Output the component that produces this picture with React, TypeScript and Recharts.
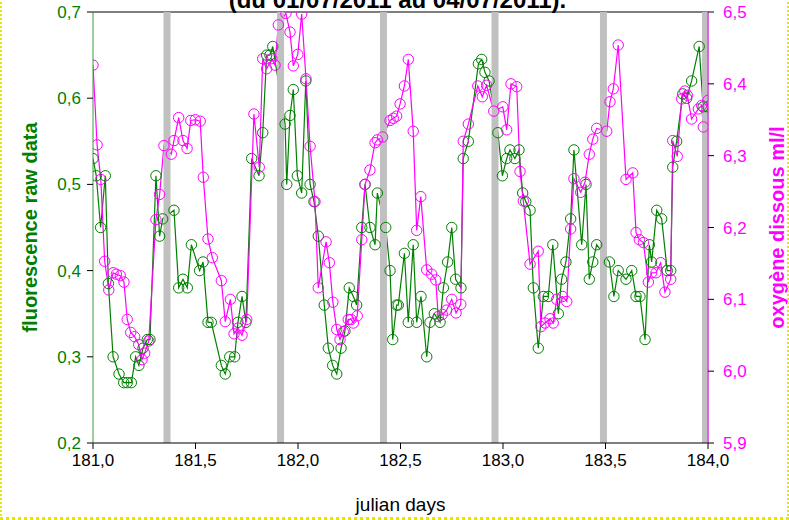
import { ComposedChart, Line, XAxis, YAxis, ReferenceLine, Label } from 'recharts'

// ─── Data ────────────────────────────────────────────────────────────────────
const fluoDays = [
  181.000, 181.016, 181.037, 181.060, 181.075, 181.098, 181.127, 181.150, 181.167, 181.187,
  181.208, 181.224, 181.244, 181.265, 181.278, 181.307, 181.325, 181.340, 181.395, 181.418,
  181.439, 181.460, 181.480, 181.520, 181.537, 181.561, 181.577, 181.626, 181.645, 181.667,
  181.691, 181.707, 181.727, 181.746, 181.774, 181.810, 181.828, 181.847, 181.863, 181.877,
  181.937, 181.945, 181.961, 181.977, 181.997, 182.018, 182.038, 182.059, 182.078, 182.099,
  182.128, 182.148, 182.169, 182.189, 182.210, 182.229, 182.250, 182.270, 182.286, 182.311,
  182.327, 182.351, 182.376, 182.387, 182.428, 182.449, 182.462, 182.481, 182.489, 182.519,
  182.538, 182.562, 182.579, 182.600, 182.628, 182.644, 182.665, 182.693, 182.709, 182.730,
  182.750, 182.769, 182.795, 182.806, 182.831, 182.880, 182.896, 182.912, 182.932, 182.975,
  182.997, 183.018, 183.034, 183.058, 183.078, 183.096, 183.111, 183.132, 183.148, 183.172,
  183.197, 183.221, 183.243, 183.270, 183.286, 183.307, 183.330, 183.346, 183.384, 183.405,
  183.421, 183.438, 183.457, 183.519, 183.541, 183.562, 183.600, 183.628, 183.649, 183.668,
  183.693, 183.714, 183.725, 183.750, 183.774, 183.801, 183.818, 183.828, 183.847, 183.877,
  183.896, 183.920, 183.957, 183.976, 184.000,
]
const fluoValues = [
  0.53, 0.51, 0.45, 0.51, 0.385, 0.30, 0.28, 0.27, 0.27, 0.27,
  0.30, 0.29, 0.31, 0.32, 0.32, 0.51, 0.44, 0.46, 0.47, 0.38,
  0.39, 0.38, 0.43, 0.40, 0.41, 0.34, 0.34, 0.29, 0.28, 0.30,
  0.30, 0.34, 0.37, 0.34, 0.53, 0.51, 0.56, 0.65, 0.65, 0.66,
  0.57, 0.50, 0.58, 0.61, 0.51, 0.49, 0.62, 0.50, 0.48, 0.44,
  0.36, 0.31, 0.29, 0.28, 0.31, 0.33, 0.38, 0.37, 0.36, 0.45,
  0.50, 0.45, 0.43, 0.49, 0.45, 0.40, 0.32, 0.36, 0.36, 0.42,
  0.34, 0.43, 0.34, 0.37, 0.30, 0.34, 0.35, 0.34, 0.38, 0.41,
  0.45, 0.39, 0.38, 0.53, 0.55, 0.64, 0.645, 0.63, 0.62, 0.56,
  0.51, 0.53, 0.54, 0.53, 0.54, 0.49, 0.48, 0.47, 0.38, 0.31,
  0.37, 0.37, 0.43, 0.35, 0.39, 0.41, 0.46, 0.54, 0.43, 0.50,
  0.39, 0.41, 0.43, 0.41, 0.37, 0.40, 0.39, 0.40, 0.37, 0.37,
  0.32, 0.43, 0.41, 0.47, 0.46, 0.40, 0.40, 0.52, 0.55, 0.605,
  0.60, 0.62, 0.66, 0.59, 0.59,
]

const oxyDays = [
  181.000, 181.020, 181.038, 181.057, 181.077, 181.098, 181.114, 181.133, 181.151, 181.167,
  181.184, 181.203, 181.223, 181.239, 181.252, 181.272, 181.307, 181.325, 181.346, 181.382,
  181.395, 181.418, 181.439, 181.459, 181.477, 181.499, 181.523, 181.538, 181.561, 181.582,
  181.626, 181.645, 181.670, 181.688, 181.707, 181.727, 181.750, 181.785, 181.811, 181.828,
  181.847, 181.872, 181.888, 181.904, 181.941, 181.961, 181.977, 181.999, 182.018, 182.039,
  182.059, 182.083, 182.099, 182.137, 182.153, 182.170, 182.189, 182.205, 182.221, 182.245,
  182.259, 182.270, 182.289, 182.311, 182.327, 182.351, 182.376, 182.387, 182.413, 182.449,
  182.465, 182.481, 182.498, 182.519, 182.538, 182.562, 182.579, 182.599, 182.628, 182.652,
  182.672, 182.684, 182.704, 182.725, 182.750, 182.771, 182.794, 182.806, 182.831, 182.877,
  182.899, 182.920, 182.955, 182.999, 183.018, 183.039, 183.067, 183.083, 183.099, 183.132,
  183.172, 183.185, 183.205, 183.229, 183.245, 183.262, 183.291, 183.311, 183.330, 183.346,
  183.379, 183.400, 183.421, 183.438, 183.457, 183.506, 183.522, 183.538, 183.562, 183.600,
  183.633, 183.649, 183.665, 183.685, 183.709, 183.725, 183.746, 183.769, 183.790, 183.818,
  183.828, 183.850, 183.872, 183.887, 183.899, 183.920, 183.953, 183.969, 183.977, 184.000,
]
const oxyValues = [
  6.426, 6.315, 6.267, 6.153, 6.113, 6.137, 6.135, 6.133, 6.124, 6.072,
  6.054, 6.048, 6.037, 6.016, 6.025, 6.042, 6.211, 6.246, 6.314, 6.302,
  6.321, 6.353, 6.321, 6.310, 6.349, 6.350, 6.348, 6.270, 6.184, 6.158,
  6.126, 6.069, 6.100, 6.052, 6.060, 6.050, 6.072, 6.358, 6.284, 6.435,
  6.421, 6.435, 6.426, 6.482, 6.498, 6.472, 6.425, 6.441, 6.497, 6.407,
  6.313, 6.236, 6.116, 6.180, 6.151, 6.096, 6.058, 6.044, 6.055, 6.072,
  6.072, 6.067, 6.077, 6.183, 6.260, 6.280, 6.318, 6.322, 6.326, 6.349,
  6.352, 6.355, 6.372, 6.397, 6.434, 6.334, 6.196, 6.243, 6.141, 6.135,
  6.127, 6.076, 6.079, 6.085, 6.100, 6.081, 6.093, 6.320, 6.344, 6.397,
  6.382, 6.398, 6.362, 6.368, 6.336, 6.400, 6.396, 6.278, 6.237, 6.149,
  6.167, 6.062, 6.067, 6.073, 6.067, 6.100, 6.104, 6.097, 6.198, 6.268,
  6.249, 6.263, 6.302, 6.323, 6.338, 6.334, 6.375, 6.393, 6.454, 6.267,
  6.276, 6.193, 6.183, 6.179, 6.124, 6.137, 6.137, 6.151, 6.110, 6.128,
  6.321, 6.299, 6.379, 6.390, 6.384, 6.351, 6.365, 6.370, 6.340, 6.377,
]

// grey night markers
const markerDays = [181.361, 181.915, 182.417, 182.961, 183.490, 183.988]

const xTicks = [181, 181.5, 182, 182.5, 183, 183.5, 184]
const leftTicks = [0.2, 0.3, 0.4, 0.5, 0.6, 0.7]
const rightTicks = [5.9, 6.0, 6.1, 6.2, 6.3, 6.4, 6.5]

const GREEN = '#008000'
const MAGENTA = '#FF00FF'
const FONT = 'Liberation Sans, Arial, sans-serif'

const fluoRows = fluoDays.map((x, i) => ({ x, y: fluoValues[i] }))
const oxyRows = oxyDays.map((x, i) => ({ x, y: oxyValues[i] }))

const comma = (v: number) => v.toFixed(1).replace('.', ',')

function SideTitle({ viewBox, text, cx, color }: any) {
  const cy = viewBox.y + viewBox.height / 2
  return (
    <text
      x={cx}
      y={cy}
      transform={`rotate(-90 ${cx} ${cy})`}
      textAnchor="middle"
      dominantBaseline="central"
      fill={color}
      fontFamily={FONT}
      fontWeight="bold"
      fontSize={20}
    >
      {text}
    </text>
  )
}

export default function App() {
  return (
    <div style={{ position: 'absolute', left: 0, top: 0, width: 789, height: 520, background: '#fff', overflow: 'hidden' }}>
      <div
        style={{
          position: 'absolute',
          left: 0,
          width: 795,
          top: -14,
          height: 28,
          lineHeight: '28px',
          textAlign: 'center',
          fontFamily: FONT,
          fontWeight: 'bold',
          fontSize: 24,
          color: '#000',
        }}
      >
        (du 01/07/2011 au 04/07/2011).
      </div>
      <ComposedChart width={789} height={520} margin={{ top: 12, right: 0, bottom: 0, left: 0 }}>
        <XAxis
          dataKey="x"
          type="number"
          domain={[181, 184]}
          ticks={xTicks}
          allowDataOverflow
          tickFormatter={comma}
          height={77}
          tickSize={6}
          tickMargin={5}
          axisLine={{ stroke: '#000' }}
          tickLine={{ stroke: '#000' }}
          tick={{ fill: '#000', fontSize: 17, fontFamily: FONT }}
        >
          <Label value="julian days" position="insideBottom" offset={9} fill="#000" fontSize={19} fontFamily={FONT} />
        </XAxis>
        <YAxis
          yAxisId="left"
          domain={[0.2, 0.7]}
          ticks={leftTicks}
          allowDataOverflow
          tickFormatter={comma}
          width={93}
          tickSize={6}
          tickMargin={6}
          axisLine={{ stroke: '#3C9A3C' }}
          tickLine={{ stroke: '#000' }}
          tick={{ fill: GREEN, fontSize: 17, fontFamily: FONT }}
          label={{ content: (p: any) => <SideTitle {...p} text="fluorescence raw data" cx={30} color={GREEN} /> }}
        />
        <YAxis
          yAxisId="right"
          orientation="right"
          domain={[5.9, 6.5]}
          ticks={rightTicks}
          allowDataOverflow
          tickFormatter={comma}
          width={81}
          tickSize={6}
          tickMargin={9}
          axisLine={{ stroke: MAGENTA }}
          tickLine={{ stroke: '#000' }}
          tick={{ fill: MAGENTA, fontSize: 17, fontFamily: FONT }}
          label={{ content: (p: any) => <SideTitle {...p} text="oxygène dissous ml/l" cx={777} color={MAGENTA} /> }}
        />
        <ReferenceLine yAxisId="left" y={0.7} stroke="#000" strokeWidth={1} />
        <Line
          yAxisId="left"
          data={fluoRows}
          dataKey="y"
          type="linear"
          stroke={GREEN}
          strokeWidth={1.2}
          dot={{ r: 5.2, stroke: GREEN, strokeWidth: 1, fill: 'none' }}
          isAnimationActive={false}
        />
        <Line
          yAxisId="right"
          data={oxyRows}
          dataKey="y"
          type="linear"
          stroke={MAGENTA}
          strokeWidth={1.2}
          dot={{ r: 5.2, stroke: MAGENTA, strokeWidth: 1, fill: 'none' }}
          isAnimationActive={false}
        />
        {markerDays.map(d => (
          <ReferenceLine
            key={d}
            yAxisId="left"
            x={d}
            stroke="#C0C0C0"
            strokeWidth={7}
            segment={[{ x: d, y: 0.2 }, { x: d, y: 0.696 }]}
          />
        ))}
      </ComposedChart>
      <div
        style={{
          position: 'absolute',
          left: 0,
          top: -5,
          width: 789,
          height: 525,
          boxSizing: 'border-box',
          borderLeft: '2px dotted #E6E600',
          borderRight: '2px dotted #E6E600',
          borderBottom: '3px dotted #E6E600',
          pointerEvents: 'none',
        }}
      />
    </div>
  )
}
